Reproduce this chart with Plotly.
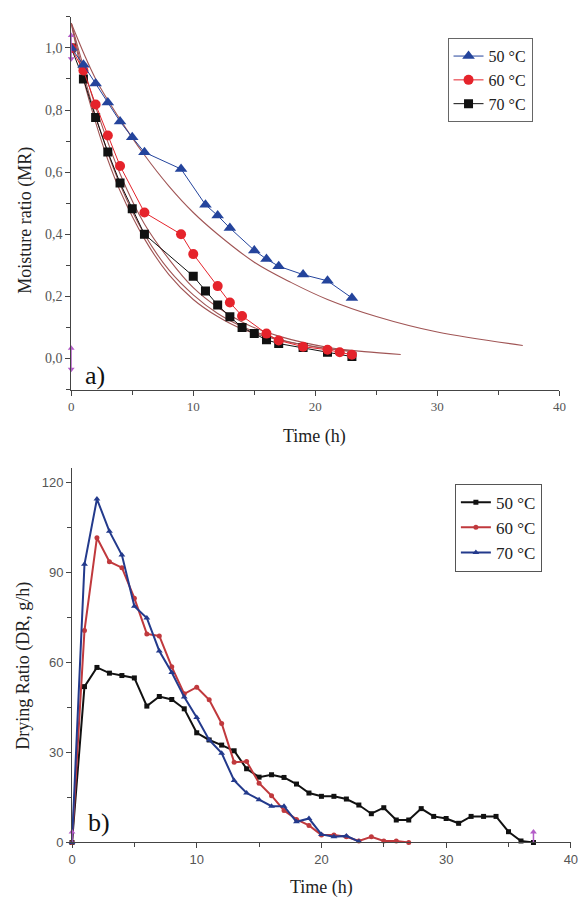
import plotly.graph_objects as go

# ---------------- (a) Moisture ratio data ----------------
t_mr_50 = [0, 1, 2, 3, 4, 5, 6, 9, 11, 12, 13, 15, 16, 17, 19, 21, 23]
mr_50 = [1.0, 0.946, 0.885, 0.824, 0.763, 0.712, 0.664, 0.61, 0.495, 0.46, 0.42,
         0.348, 0.32, 0.297, 0.27, 0.25, 0.195]
t_mr_60 = [0, 1, 2, 3, 4, 6, 9, 10, 12, 13, 14, 16, 17, 19, 21, 22, 23]
mr_60 = [1.0, 0.927, 0.818, 0.718, 0.62, 0.47, 0.40, 0.336, 0.233, 0.18, 0.137,
         0.08, 0.058, 0.038, 0.028, 0.02, 0.012]
t_mr_70 = [0, 1, 2, 3, 4, 5, 6, 10, 11, 12, 13, 14, 15, 16, 17, 19, 21, 23]
mr_70 = [1.0, 0.90, 0.776, 0.665, 0.565, 0.482, 0.40, 0.265, 0.217, 0.172, 0.134,
         0.10, 0.08, 0.06, 0.048, 0.035, 0.02, 0.006]

# fitted model curves
t_fit_50 = [0, 2, 4, 6, 8, 10, 12, 15, 18, 21, 25, 30, 37]
fit_50 = [1.08, 0.90, 0.77, 0.655, 0.555, 0.47, 0.40, 0.31, 0.245, 0.19, 0.135, 0.085, 0.042]
t_fit_60 = [0, 1, 2, 4, 6, 8, 10, 12, 14.5, 17, 21, 24, 27]
fit_60 = [1.08, 0.94, 0.81, 0.595, 0.433, 0.32, 0.228, 0.165, 0.108, 0.072, 0.036, 0.022, 0.013]
t_fit_70 = [0, 1, 2, 4, 6, 8, 10, 12, 14, 16, 18, 20, 23]
fit_70 = [1.08, 0.92, 0.78, 0.56, 0.40, 0.285, 0.205, 0.145, 0.103, 0.073, 0.052, 0.037, 0.022]
t_fit_70b = [0, 1, 2, 3, 4, 6, 8, 10, 12, 14, 17, 20, 23]
fit_70b = [1.08, 0.90, 0.76, 0.64, 0.54, 0.385, 0.27, 0.19, 0.135, 0.095, 0.06, 0.038, 0.024]

# ---------------- (b) Drying ratio data ----------------
t_dr_50 = list(range(0, 38))
dr_50 = [0, 52, 58.4, 56.5, 55.7, 54.9, 45.5, 48.7, 47.7, 44.6, 36.6, 34.2, 32.5, 30.6,
         24.6, 21.8, 22.6, 21.7, 19.5, 16.5, 15.4, 15.4, 14.5, 12.5, 9.6, 11.6, 7.5, 7.5,
         11.3, 8.7, 8.0, 6.4, 8.7, 8.7, 8.7, 3.6, 0.5, 0]
t_dr_60 = list(range(0, 28))
dr_60 = [0, 70.7, 101.7, 93.7, 91.7, 81.5, 69.6, 68.9, 58.6, 49.6, 51.8, 47.6, 39.7, 26.8,
         27.0, 19.8, 15.6, 10.7, 7.7, 5.7, 2.5, 2.5, 1.9, 0.5, 1.9, 0.5, 0.5, 0]
t_dr_70 = list(range(0, 24))
dr_70 = [0, 92.8, 114.6, 103.8, 95.9, 78.8, 74.9, 63.9, 56.7, 48.5, 41.7, 34.2, 29.8, 20.7,
         16.5, 14.3, 12.1, 12.1, 6.9, 8.0, 2.7, 1.9, 2.2, 0.3]

# data-reader cursor marks (Origin artefacts)
cur_a_t = [0, 0]
cur_a_top = [1.04, 0.965]
cur_a_bot = [0.033, -0.035]
cur_b_t0 = [0, 0]
cur_b_t1 = [37, 37]
cur_b_y = [3.5, -3.5]

leg_a = ["50 °C", "60 °C", "70 °C"]
leg_b = ["50 °C", "60 °C", "70 °C"]

BLUE = "#24449c"
RED = "#e5232b"
BLACK = "#111111"
FIT = "#a05555"
PINK = "#b45cc8"
SERIF = "Liberation Serif"
SANS = "Liberation Sans"

fig = go.Figure()

# fitted curves (a)
for tt, yy in [(t_fit_50, fit_50), (t_fit_60, fit_60), (t_fit_70, fit_70), (t_fit_70b, fit_70b)]:
    fig.add_trace(go.Scatter(x=tt, y=yy, mode="lines", line=dict(color=FIT, width=1.1, shape="spline"),
                             showlegend=False, hoverinfo="skip", xaxis="x", yaxis="y"))

# measured (a)
fig.add_trace(go.Scatter(x=t_mr_70, y=mr_70, mode="lines+markers", name=leg_a[2],
                         line=dict(color=BLACK, width=1), marker=dict(symbol="square", size=9, color=BLACK),
                         xaxis="x", yaxis="y", legend="legend", legendrank=3))
fig.add_trace(go.Scatter(x=t_mr_60, y=mr_60, mode="lines+markers", name=leg_a[1],
                         line=dict(color=RED, width=1), marker=dict(symbol="circle", size=10, color=RED),
                         xaxis="x", yaxis="y", legend="legend", legendrank=2))
fig.add_trace(go.Scatter(x=t_mr_50, y=mr_50, mode="lines+markers", name=leg_a[0],
                         line=dict(color=BLUE, width=1), marker=dict(symbol="triangle-up", size=11, color=BLUE),
                         xaxis="x", yaxis="y", legend="legend", legendrank=1))

for yy in (cur_a_top, cur_a_bot):
    fig.add_trace(go.Scatter(x=cur_a_t, y=yy, mode="lines+markers", showlegend=False, hoverinfo="skip",
                             line=dict(color=PINK, width=1.5),
                             marker=dict(symbol=["triangle-up", "triangle-down"], size=6, color=PINK),
                             cliponaxis=False, xaxis="x", yaxis="y"))

# (b)
fig.add_trace(go.Scatter(x=t_dr_50, y=dr_50, mode="lines+markers", name=leg_b[0],
                         line=dict(color=BLACK, width=2), marker=dict(symbol="square", size=5, color=BLACK),
                         cliponaxis=False, xaxis="x2", yaxis="y2", legend="legend2", legendrank=1))
fig.add_trace(go.Scatter(x=t_dr_60, y=dr_60, mode="lines+markers", name=leg_b[1],
                         line=dict(color="#c0393d", width=2), marker=dict(symbol="circle", size=5, color="#c0393d"),
                         cliponaxis=False, xaxis="x2", yaxis="y2", legend="legend2", legendrank=2))
fig.add_trace(go.Scatter(x=t_dr_70, y=dr_70, mode="lines+markers", name=leg_b[2],
                         line=dict(color="#233a8c", width=2), marker=dict(symbol="triangle-up", size=6, color="#233a8c"),
                         cliponaxis=False, xaxis="x2", yaxis="y2", legend="legend2", legendrank=3))
for tt in (cur_b_t0, cur_b_t1):
    fig.add_trace(go.Scatter(x=tt, y=cur_b_y, mode="lines+markers", showlegend=False, hoverinfo="skip",
                             line=dict(color=PINK, width=1.5),
                             marker=dict(symbol=["triangle-up", "triangle-down"], size=6, color=PINK),
                             cliponaxis=False, xaxis="x2", yaxis="y2"))

W, H = 587, 905


def px_x(p):
    return p / W


def px_y(p):
    return 1 - p / H


axis_common = dict(showgrid=False, zeroline=False, showline=True, linecolor="#444", linewidth=1,
                   ticks="outside", ticklen=5, tickcolor="#444", tickwidth=1)

fig.update_layout(
    width=W, height=H, margin=dict(l=0, r=0, t=0, b=0),
    paper_bgcolor="white", plot_bgcolor="white",
    xaxis=dict(domain=[px_x(68.5), px_x(566)], range=[0, 40], anchor="y",
               tickvals=[0, 10, 20, 30, 40], tickfont=dict(family=SERIF, size=13, color="#555"),
               minor=dict(dtick=5, ticks="outside", ticklen=4, tickcolor="#444"), **axis_common),
    yaxis=dict(domain=[px_y(393), px_y(17)], range=[-0.1, 1.1], anchor="x",
               tickvals=[0, 0.2, 0.4, 0.6, 0.8, 1.0],
               ticktext=["0,0", "0,2", "0,4", "0,6", "0,8", "1,0"],
               tickfont=dict(family=SERIF, size=14, color="#555"),
               minor=dict(dtick=0.1, ticks="outside", ticklen=4, tickcolor="#444"), **axis_common),
    xaxis2=dict(domain=[px_x(69.3), px_x(577.7)], range=[0, 40], anchor="y2",
                tickvals=[0, 10, 20, 30, 40], tickfont=dict(family=SANS, size=13, color="#555"),
                minor=dict(dtick=5, ticks="outside", ticklen=4, tickcolor="#444"), **axis_common),
    yaxis2=dict(domain=[px_y(850), px_y(472)], range=[0, 125], anchor="x2",
                tickvals=[0, 30, 60, 90, 120], tickfont=dict(family=SANS, size=13, color="#555"),
                minor=dict(dtick=15, ticks="outside", ticklen=4, tickcolor="#444"), **axis_common),
    legend=dict(x=px_x(452), y=px_y(38.5), xanchor="left", yanchor="top",
                bgcolor="white", bordercolor="#666", borderwidth=1,
                font=dict(family=SERIF, size=16, color="#222"), tracegroupgap=0, itemwidth=30),
    legend2=dict(x=px_x(459.5), y=px_y(488), xanchor="left", yanchor="top",
                 bgcolor="white", bordercolor="#555", borderwidth=1,
                 font=dict(family=SERIF, size=17, color="#222"), tracegroupgap=0, itemwidth=30),
    annotations=[
        dict(text="a)", x=px_x(81), y=px_y(379), xref="paper", yref="paper", xanchor="left",
             yanchor="middle", showarrow=False, font=dict(family=SERIF, size=26, color="#111")),
        dict(text="b)", x=px_x(84), y=px_y(830), xref="paper", yref="paper", xanchor="left",
             yanchor="middle", showarrow=False, font=dict(family=SERIF, size=26, color="#111")),
        dict(text="Moisture ratio (MR)", x=px_x(21), y=px_y(222), xref="paper", yref="paper",
             xanchor="center", yanchor="middle",
             textangle=-90, showarrow=False, font=dict(family=SERIF, size=18, color="#222")),
        dict(text="Time (h)", x=px_x(316), y=px_y(440), xref="paper", yref="paper",
             xanchor="center", yanchor="middle",
             showarrow=False, font=dict(family=SERIF, size=18, color="#222")),
        dict(text="Drying Ratio (DR, g/h)", x=px_x(19), y=px_y(672), xref="paper", yref="paper",
             xanchor="center", yanchor="middle",
             textangle=-90, showarrow=False, font=dict(family=SERIF, size=18, color="#222")),
        dict(text="Time (h)", x=px_x(324), y=px_y(895), xref="paper", yref="paper",
             xanchor="center", yanchor="middle",
             showarrow=False, font=dict(family=SERIF, size=18, color="#222")),
    ],
)

fig.write_html("out.html", config={"displayModeBar": False},
               post_script="document.body.style.margin='0';document.body.style.overflow='hidden';")
